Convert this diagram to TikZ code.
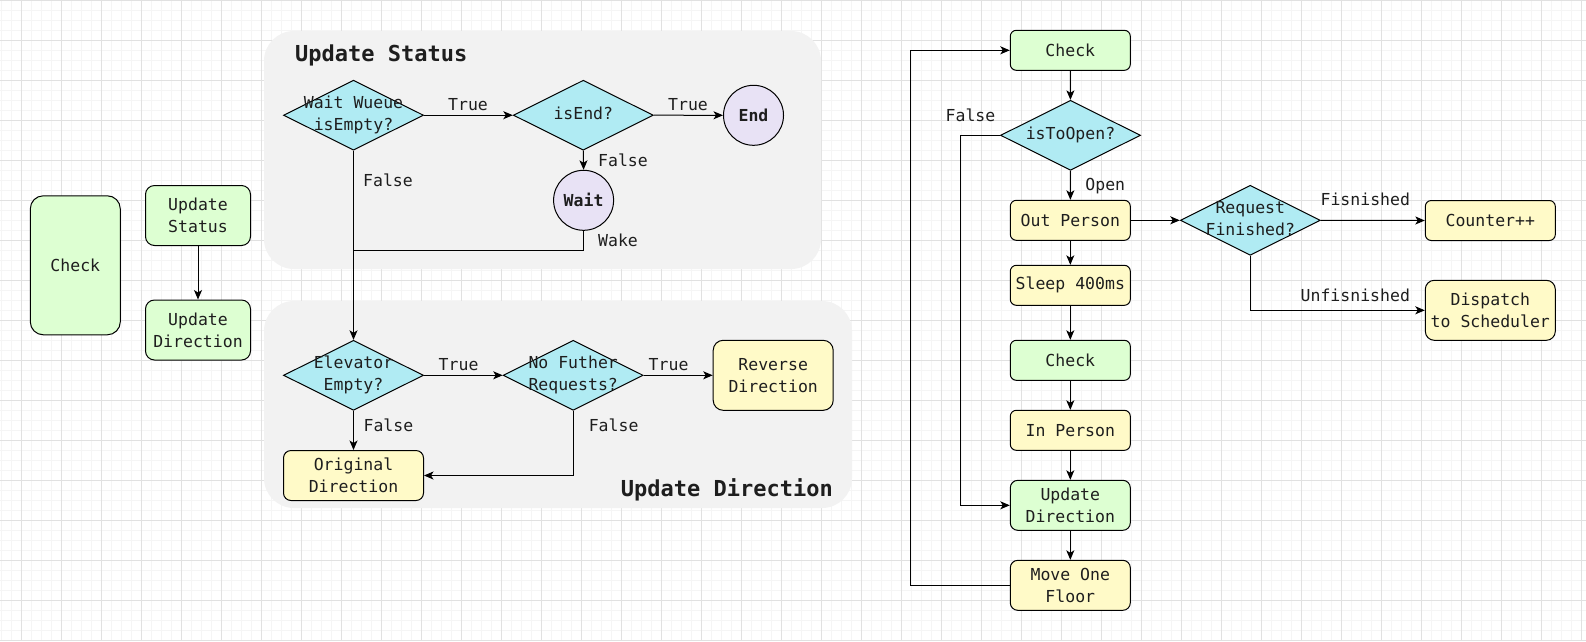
\documentclass[tikz,border=0pt]{standalone}
\usepackage{fontspec}
\setmainfont{DejaVu Sans Mono}
\usetikzlibrary{arrows.meta,shapes.geometric}

\definecolor{gridminor}{RGB}{245,245,245}
\definecolor{gridmajor}{RGB}{225,225,225}
\definecolor{boxgreen}{RGB}{221,255,210}
\definecolor{boxyellow}{RGB}{255,250,200}
\definecolor{diacyan}{RGB}{176,235,243}
\definecolor{circpurple}{RGB}{232,226,245}
\definecolor{panelgrey}{RGB}{242,242,242}
\definecolor{txt}{RGB}{30,30,30}

\newcommand\dtext[1]{\makebox[0pt]{\raisebox{\dimexpr(\depth-\height)/2\relax}[0pt][0pt]{\begin{tabular}{@{}c@{}}#1\end{tabular}}}}

\begin{document}
\begin{tikzpicture}[x=1pt,y=-1pt,
  font=\fontsize{16.5}{22}\selectfont, text=txt,
  box/.style={draw=black, line width=1pt, rounded corners=6pt, align=center, inner sep=2pt},
  gbox/.style={box, fill=boxgreen},
  ybox/.style={box, fill=boxyellow},
  dia/.style={diamond, draw=black, fill=diacyan, line width=1pt, inner sep=0pt, aspect=2, minimum width=140pt, minimum height=70pt},
  circ/.style={circle, draw=black, fill=circpurple, line width=1pt, minimum size=60pt, inner sep=0pt, font=\fontsize{16.5}{22}\selectfont\bfseries},
  lbl/.style={inner sep=0pt, text height=12pt, text depth=0pt},
  ttl/.style={font=\fontsize{22}{26}\selectfont\bfseries, inner sep=0pt},
  panel/.style={fill=panelgrey, rounded corners=30pt},
  arr/.style={line width=1pt, draw=black, -{Stealth[length=9.5pt,width=8pt,inset=2.5pt]}},
  ln/.style={line width=1pt, draw=black}]

\useasboundingbox (0,0) rectangle (1586,641);
\fill[white] (0,0) rectangle (1586,641);
% grid
\foreach \i in {0,...,158} \draw[gridminor, line width=1pt] ({1+10*\i},0) -- ({1+10*\i},641);
\foreach \j in {0,...,64} \draw[gridminor, line width=1pt] (0,{10*\j}) -- (1586,{10*\j});
\foreach \i in {0,...,39} \draw[gridmajor, line width=1pt] ({21+40*\i},0) -- ({21+40*\i},641);
\foreach \j in {0,...,16} \draw[gridmajor, line width=1pt] (0,{40*\j}) -- (1586,{40*\j});

% panels
\fill[panel] (264,31) rectangle (821,269);
\fill[panel] (264,301) rectangle (852,508);
\node[ttl, anchor=west] (t1) at (295,55) {Update Status};
\node[ttl, anchor=east] (t2) at (833,490) {Update Direction};

% left
\node[gbox, minimum width=90pt, minimum height=139pt, rounded corners=13pt] (chk0) at (75.3,265.3) {Check};
\node[gbox, minimum width=105pt, minimum height=60pt, rounded corners=9pt] (us0) at (198,215.5) {Update\\Status};
\node[gbox, minimum width=105pt, minimum height=60pt, rounded corners=9pt] (ud0) at (198,330) {Update\\Direction};
\draw[arr] (us0) -- (ud0);

% update status panel
\node[dia] (d1) at (353.5,115.2) {\dtext{Wait Wueue\\isEmpty?}};
\node[dia] (dend) at (583.3,115.2) {\dtext{isEnd?}};
\node[circ] (endc) at (753.5,115.3) {End};
\node[circ] (waitc) at (583.6,200.3) {Wait};
\coordinate (join) at (353.5,250);
\draw[arr] (d1.east) -- (dend.west);
\draw[arr] (dend.east) -- (endc.west);
\draw[arr] (dend.south) -- (waitc.north);
\draw[ln] (waitc.south) |- (join);
\node[lbl] (lt1) at (468,104) {True};
\node[lbl] (lt2) at (688,104) {True};
\node[lbl] (lf1) at (623,160.7) {False};
\node[lbl] (lf2) at (388,180.7) {False};
\node[lbl] (lw) at (618,240.7) {Wake};

% update direction panel
\node[dia] (de) at (353.5,375.3) {\dtext{Elevator\\Empty?}};
\node[dia] (dn) at (573.2,375.3) {\dtext{No Futher\\Requests?}};
\node[ybox, minimum width=120pt, minimum height=70pt, rounded corners=10pt] (rev) at (773.2,375.3) {Reverse\\Direction};
\node[ybox, minimum width=140pt, minimum height=50pt, rounded corners=7.5pt] (orig) at (353.5,475.5) {Original\\Direction};
\draw[arr] (d1.south) -- (de.north);
\draw[arr] (de.east) -- (dn.west);
\draw[arr] (dn.east) -- (rev.west);
\draw[arr] (de.south) -- (orig.north);
\draw[arr] (dn.south) |- (orig.east);
\node[lbl] (lt3) at (458.6,364) {True};
\node[lbl] (lt4) at (668.6,364) {True};
\node[lbl] (lf3) at (388.4,425) {False};
\node[lbl] (lf4) at (613.6,425) {False};

% right column
\node[gbox, minimum width=120pt, minimum height=40pt] (chk1) at (1070.3,50.3) {Check};
\node[dia] (dt) at (1070.5,135.3) {\dtext{isToOpen?}};
\node[ybox, minimum width=120pt, minimum height=40pt] (outp) at (1070.3,220.3) {Out Person};
\node[ybox, minimum width=120pt, minimum height=40pt] (slp) at (1070.3,285.3) {Sleep 400ms};
\node[gbox, minimum width=120pt, minimum height=40pt] (chk2) at (1070.3,360.3) {Check};
\node[ybox, minimum width=120pt, minimum height=40pt] (inp) at (1070.3,430.3) {In Person};
\node[gbox, minimum width=120pt, minimum height=50pt, rounded corners=7.5pt] (upd) at (1070.3,505.3) {Update\\Direction};
\node[ybox, minimum width=120pt, minimum height=50pt, rounded corners=7.5pt] (mv) at (1070.3,585.3) {Move One\\Floor};
\node[dia] (dr) at (1250.3,220.3) {\dtext{Request\\Finished?}};
\node[ybox, minimum width=130pt, minimum height=40pt] (cnt) at (1490.3,220.5) {Counter++};
\node[ybox, minimum width=130pt, minimum height=60pt, rounded corners=9pt] (dsp) at (1490.3,310.3) {Dispatch\\to Scheduler};

\coordinate (fl) at (960.3,135.3);
\coordinate (lp) at (910.7,585.3);
\draw[arr] (chk1) -- (dt);
\draw[arr] (dt) -- (outp);
\draw[arr] (outp) -- (slp);
\draw[arr] (slp) -- (chk2);
\draw[arr] (chk2) -- (inp);
\draw[arr] (inp) -- (upd);
\draw[arr] (upd) -- (mv);
\draw[arr] (dt.west) -- (fl) |- (upd.west);
\draw[arr] (mv.west) -- (lp) |- (chk1.west);
\draw[arr] (outp.east) -- (dr.west);
\draw[arr] (dr.east) -- (cnt.west);
\draw[arr] (dr.south) |- (dsp.west);
\node[lbl] (lf5) at (970.5,115.7) {False};
\node[lbl] (lo) at (1105.3,184) {Open};
\node[lbl] (lfin) at (1365.3,199) {Fisnished};
\node[lbl] (lunf) at (1355.3,295) {Unfisnished};
\end{tikzpicture}
\end{document}
